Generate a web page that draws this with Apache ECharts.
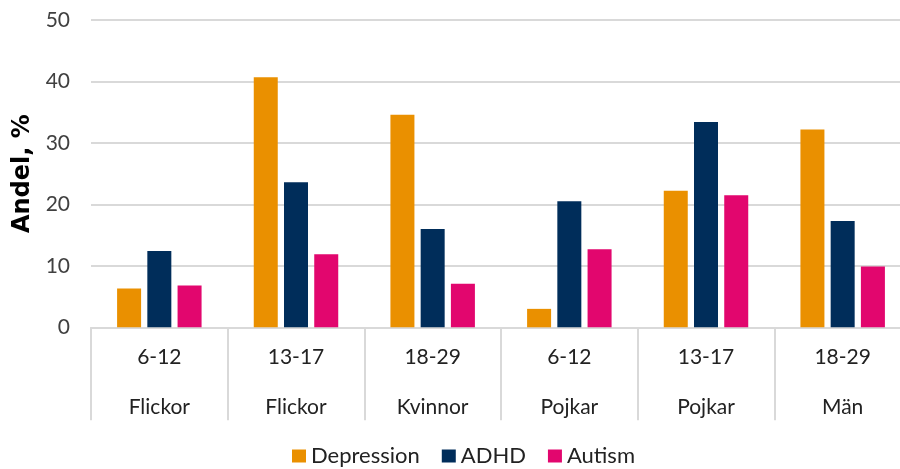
<!DOCTYPE html>
<html>
<head>
<meta charset="utf-8">
<script src="https://cdn.jsdelivr.net/npm/echarts@6/dist/echarts.min.js"></script>
<style>
  html, body { margin: 0; padding: 0; background: #fff; }
  #chart { width: 900px; height: 469px; }
</style>
</head>
<body>
<div id="chart"></div>
<script>
// Age bands and gender groups for the two-row category axis
const ageGroups = ['6-12', '13-17', '18-29', '6-12', '13-17', '18-29'];
const genderGroups = ['Flickor', 'Flickor', 'Kvinnor', 'Pojkar', 'Pojkar', 'Män'];

// Share (%) per diagnosis
const depression = [6.3, 40.7, 34.6, 3.0, 22.2, 32.2];
const adhd = [12.4, 23.6, 16.0, 20.5, 33.4, 17.3];
const autism = [6.8, 11.9, 7.1, 12.7, 21.5, 9.9];

const yTicks = [0, 10, 20, 30, 40, 50];

const categories = ageGroups.map((a, i) => a + '|' + genderGroups[i]);
const font = 'Lato, "Open Sans", sans-serif';

const chart = echarts.init(document.getElementById('chart'));
chart.setOption({
  animation: false,
  textStyle: { fontFamily: font },
  grid: { left: 91, right: -11, top: 20, bottom: 141.7, containLabel: false, outerBoundsMode: 'none' },
  legend: {
    top: 444,
    left: 292,
    padding: 0,
    itemWidth: 14,
    itemHeight: 13,
    itemGap: 22,
    icon: 'rect',
    textStyle: { fontSize: 22, lineHeight: 24, color: '#222', fontFamily: font },
    data: ['Depression', 'ADHD', 'Autism']
  },
  xAxis: {
    type: 'category',
    data: categories,
    axisLine: { show: true, lineStyle: { color: '#d9d9d9', width: 2 } },
    axisTick: { show: true, alignWithLabel: false, interval: 0, length: 93, lineStyle: { color: '#d9d9d9', width: 2 } },
    axisLabel: {
      margin: 5,
      interval: 0,
      formatter: v => {
        const [a, g] = v.split('|');
        return '{a|' + a + '}\n{b|' + g + '}';
      },
      rich: {
        a: { fontSize: 21, color: '#222', lineHeight: 50, fontFamily: font },
        b: { fontSize: 21, color: '#222', lineHeight: 50, fontFamily: font }
      }
    }
  },
  yAxis: {
    type: 'value',
    min: yTicks[0],
    max: yTicks[yTicks.length - 1],
    interval: 10,
    name: 'Andel, %',
    nameLocation: 'middle',
    nameGap: 54,
    nameTextStyle: { fontSize: 24, fontWeight: 'bold', color: '#000', fontFamily: '"DejaVu Sans", sans-serif' },
    axisLine: { show: false },
    axisTick: { show: false },
    axisLabel: { margin: 21, fontSize: 21, color: '#404040', fontFamily: font },
    splitLine: { lineStyle: { color: '#d9d9d9', width: 2 } }
  },
  series: [
    { name: 'Depression', type: 'bar', data: depression, barWidth: 24, barGap: '26%', itemStyle: { color: '#EA9000' } },
    { name: 'ADHD', type: 'bar', data: adhd, barWidth: 24, barGap: '26%', itemStyle: { color: '#002D5A' } },
    { name: 'Autism', type: 'bar', data: autism, barWidth: 24, barGap: '26%', itemStyle: { color: '#E2066E' } }
  ]
});
</script>
</body>
</html>
